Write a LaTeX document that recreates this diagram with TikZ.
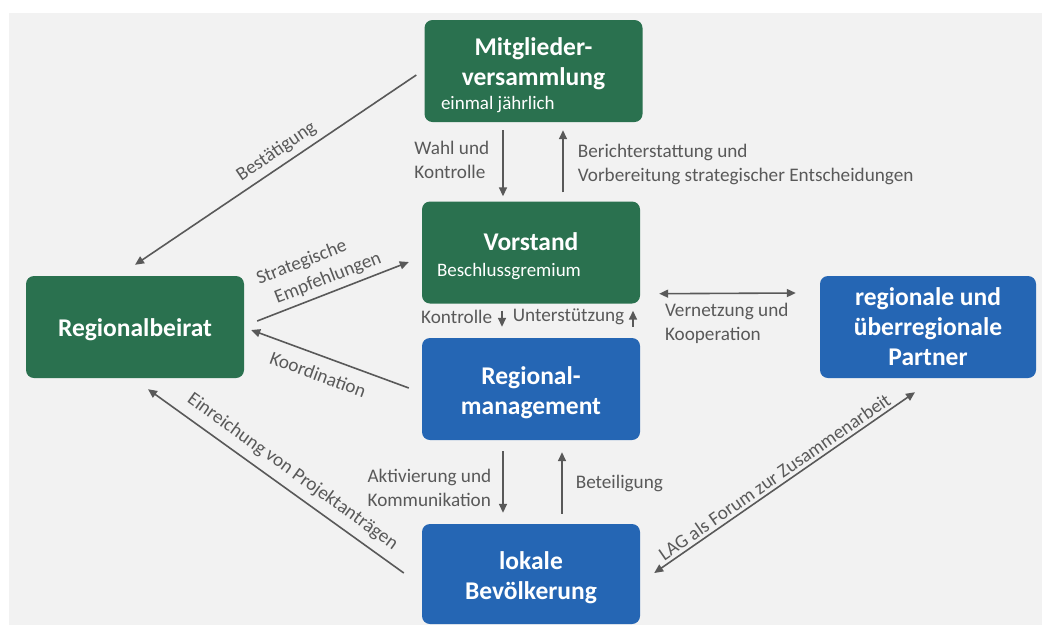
\documentclass[tikz,border=0pt]{standalone}
\usepackage{fontspec}
\setmainfont{Carlito}
\usetikzlibrary{arrows.meta}
\definecolor{lagGreen}{HTML}{2A714F}
\definecolor{lagBlue}{HTML}{2566B4}
\definecolor{lagGray}{HTML}{595959}
\definecolor{lagBg}{HTML}{F2F2F2}
\newcommand{\untertitel}[2]{{\normalfont\fontsize{19}{22}\selectfont\makebox[#1][l]{#2}}}
\newcommand{\tiefer}[1]{\rule{0pt}{#1}}

\begin{document}
\begin{tikzpicture}[x=1pt,y=-1pt,
  box/.style={rounded corners=8pt, minimum width=218pt, minimum height=102pt, inner sep=0pt,
    text=white, align=center, font=\fontsize{25.5}{30}\selectfont\bfseries},
  gruen/.style={box, fill=lagGreen},
  blau/.style={box, fill=lagBlue},
  pfeil/.style={draw=lagGray, line width=1.6pt, -{Triangle[length=9pt,width=8pt]}},
  doppelpfeil/.style={pfeil, {Triangle[length=9pt,width=8pt]}-{Triangle[length=9pt,width=8pt]}},
  txt/.style={text=lagGray, font=\fontsize{19.2}{24}\selectfont, inner sep=3pt}]

\fill[white] (0,0) rectangle (1042,625);
\fill[lagBg] (9,13) rectangle (1042,625);
\useasboundingbox (0,0) rectangle (1042,625);

% Gremien
\node[gruen] (mv) at (533.5,71) {\tiefer{26.5pt}Mitglieder-\\versammlung\\[-6pt]\untertitel{185pt}{einmal jährlich}};
\node[gruen] (vs) at (531,252.5) {\tiefer{25.5pt}Vorstand\\[-4pt]\untertitel{188pt}{Beschlussgremium}};
\node[blau] (rm) at (531,389) {\tiefer{24.5pt}Regional-\\management};
\node[blau, minimum height=100pt] (lb) at (531,574) {\tiefer{25.5pt}lokale\\Bevölkerung};
\node[gruen] (rb) at (135,327) {\tiefer{22.5pt}Regionalbeirat};
\node[blau, minimum width=216pt] (pt) at (928,327) {regionale und\\überregionale\\Partner};

% senkrechte Pfeile
\draw[pfeil] ([shift={(-30.5,8)}]mv.south) -- node[txt, pos=.45, left=10pt, align=left]{Wahl und\\Kontrolle} ([shift={(-28,-5)}]vs.north);
\draw[pfeil] ([shift={(32,-9)}]vs.north) -- node[txt, pos=.44, right=11pt, align=left]{Berichterstattung und\\Vorbereitung strategischer Entscheidungen} ([shift={(29.5,8)}]mv.south);
\draw[pfeil] ([shift={(-29,7)}]vs.south) -- node[txt, pos=.38, left=6pt]{Kontrolle} ([shift={(-29,-11)}]rm.north);
\draw[pfeil] ([shift={(102,-11)}]rm.north) -- node[txt, pos=.62, left=5pt]{Unterstützung} ([shift={(102,7)}]vs.south);
\draw[pfeil] ([shift={(-28,11)}]rm.south) -- node[txt, pos=.6, left=8pt, align=left]{Aktivierung und\\Kommunikation} ([shift={(-28,-11)}]lb.north);
\draw[pfeil] ([shift={(31,-10)}]lb.north) -- node[txt, right=10pt]{Beteiligung} ([shift={(31,12)}]rm.south);

% schraege Pfeile
\draw[pfeil] ([shift={(-8,4)}]mv.west) -- node[txt, pos=.468, sloped, above, inner ysep=5.5pt]{Bestätigung} ([shift={(0,-11)}]rb.north);
\draw[pfeil] ([shift={(13,-6)}]rb.east) -- node[txt, pos=.47, sloped, above, align=left, inner ysep=5pt]{Strategische\\\hspace*{10pt}Empfehlungen} ([shift={(-13,9.5)}]vs.west);
\draw[pfeil] ([shift={(-13,-1)}]rm.west) -- node[txt, pos=.535, sloped, below, inner ysep=11pt]{Koordination} ([shift={(7,3)}]rb.east);
\draw[pfeil] ([shift={(-18,-1)}]lb.west) -- node[txt, pos=.474, sloped, above, inner ysep=8pt]{Einreichung von Projektanträgen} ([shift={(13,11)}]rb.south);
\draw[doppelpfeil] ([shift={(14,-1)}]lb.east) -- node[txt, pos=.484, sloped, above]{LAG als Forum zur Zusammenarbeit} ([shift={(-13,14)}]pt.south);

% Vernetzung
\draw[doppelpfeil] ([shift={(19,-10)}]vs.south east) -- node[txt, pos=0, anchor=north west, align=left, xshift=2pt, yshift=-6pt]{Vernetzung und\\Kooperation} ([shift={(-24,-34)}]pt.west);
\end{tikzpicture}
\end{document}
